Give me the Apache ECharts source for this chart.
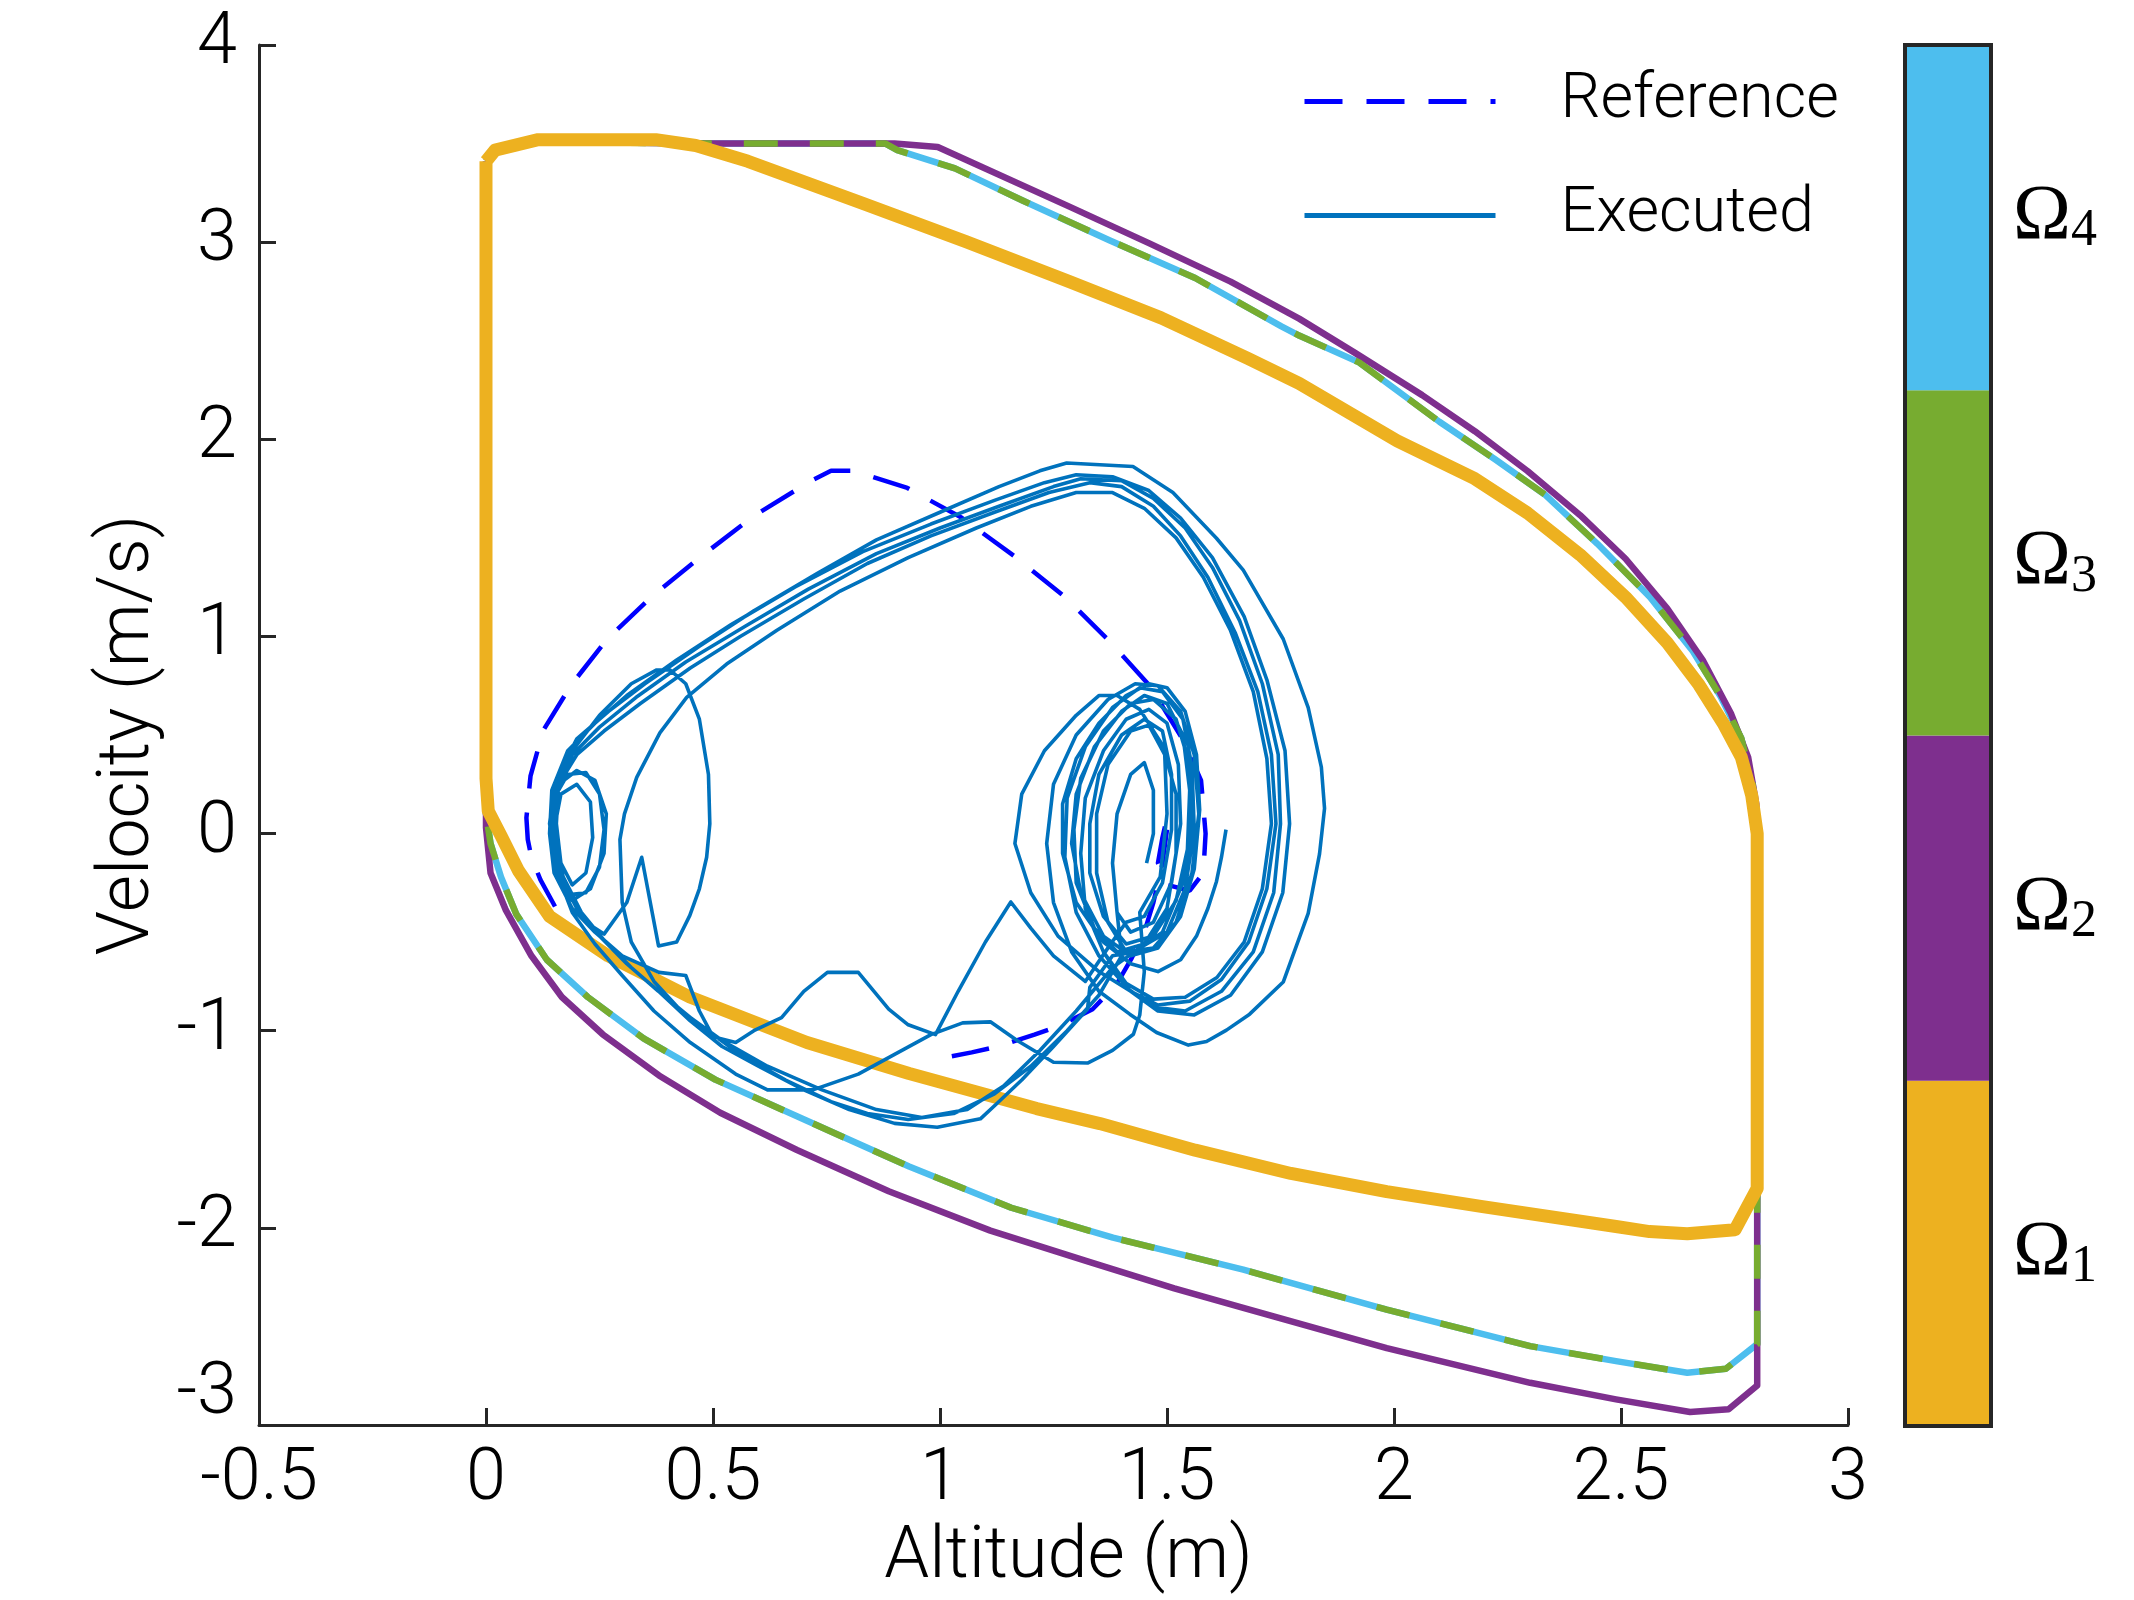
<!DOCTYPE html>
<html>
<head>
<meta charset="utf-8">
<script src="https://cdn.jsdelivr.net/npm/echarts@6/dist/echarts.min.js"></script>
<style>
  html, body { margin: 0; padding: 0; background: #fff; }
  #chart { width: 2134px; height: 1600px; }
</style>
</head>
<body>
<div id="chart"></div>
<script>
// axis ticks
var xTicks = [-0.5, 0, 0.5, 1, 1.5, 2, 2.5, 3];
var yTicks = [-3, -2, -1, 0, 1, 2, 3, 4];

// region boundaries (altitude, velocity)
var omega1 = [[0, 3.41], [0.02, 3.467], [0.115, 3.52], [0.374, 3.52], [0.462, 3.49], [0.577, 3.41], [0.83, 3.197],
  [1.057, 3.003], [1.285, 2.80], [1.487, 2.616], [1.678, 2.41], [1.791, 2.284], [2.007, 1.992], [2.178, 1.80],
  [2.294, 1.626], [2.41, 1.414], [2.51, 1.199], [2.602, 0.967], [2.672, 0.754], [2.725, 0.56], [2.765, 0.388],
  [2.788, 0.193], [2.80, 0.0], [2.80, -1.80], [2.751, -2.01], [2.646, -2.03], [2.563, -2.019], [2.489, -1.993],
  [2.195, -1.892], [1.984, -1.816], [1.773, -1.724], [1.562, -1.606], [1.352, -1.471], [1.213, -1.395],
  [0.932, -1.217], [0.707, -1.06], [0.449, -0.829], [0.269, -0.62], [0.14, -0.42], [0.072, -0.19],
  [0.033, -0.01], [0.005, 0.114], [0, 0.28], [0, 3.41]];

var omega2 = [[0, 3.41], [0.02, 3.467], [0.115, 3.51], [0.46, 3.50], [0.90, 3.50], [0.995, 3.483], [1.285, 3.18],
  [1.46, 2.995], [1.64, 2.80], [1.791, 2.612], [1.915, 2.437], [2.062, 2.224], [2.178, 2.041], [2.294, 1.839],
  [2.41, 1.615], [2.51, 1.394], [2.602, 1.141], [2.68, 0.88], [2.742, 0.61], [2.78, 0.388], [2.798, 0.15],
  [2.80, 0.0], [2.80, -2.80], [2.737, -2.92], [2.652, -2.934], [2.489, -2.87], [2.30, -2.786], [1.984, -2.61],
  [1.668, -2.406], [1.516, -2.307], [1.325, -2.17], [1.111, -2.014], [0.887, -1.814], [0.685, -1.605],
  [0.516, -1.416], [0.381, -1.227], [0.257, -1.018], [0.167, -0.829], [0.10, -0.62], [0.044, -0.39],
  [0.01, -0.2], [0, 0.03], [0, 3.41]];

// Omega3 and Omega4 share the same boundary
var omega34 = [[0, 3.41], [0.02, 3.467], [0.115, 3.51], [0.46, 3.50], [0.88, 3.50], [0.906, 3.467], [1.033, 3.374],
  [1.183, 3.21], [1.373, 3.01], [1.562, 2.818], [1.752, 2.573], [1.791, 2.526], [1.923, 2.39], [2.10, 2.089],
  [2.224, 1.896], [2.332, 1.72], [2.448, 1.47], [2.564, 1.199], [2.657, 0.929], [2.719, 0.696], [2.765, 0.484],
  [2.79, 0.25], [2.80, 0.05], [2.80, -2.59], [2.731, -2.715], [2.646, -2.735], [2.489, -2.676], [2.30, -2.60],
  [1.984, -2.415], [1.668, -2.212], [1.381, -2.05], [1.157, -1.898], [0.932, -1.689], [0.707, -1.457],
  [0.505, -1.248], [0.347, -1.039], [0.224, -0.829], [0.134, -0.64], [0.067, -0.41], [0.033, -0.22],
  [0.01, -0.05], [0, 0.1], [0, 3.41]];

// reference trajectory (two visible pieces)
var refFall = [[1.50, 0.02], [1.49, -0.15], [1.47, -0.35], [1.45, -0.50], [1.421, -0.637], [1.388, -0.768],
  [1.336, -0.891], [1.263, -0.975], [1.208, -1.02], [1.127, -1.08], [1.07, -1.11], [0.99, -1.146]];
var refArc = [[0.152, -0.37], [0.12, -0.235], [0.10, -0.12], [0.092, -0.03], [0.089, 0.08], [0.098, 0.291],
  [0.126, 0.523], [0.188, 0.755], [0.267, 0.987], [0.368, 1.208], [0.48, 1.417], [0.592, 1.614], [0.715, 1.788],
  [0.76, 1.84], [0.81, 1.84], [0.928, 1.753], [1.047, 1.603], [1.165, 1.405], [1.277, 1.197], [1.373, 0.976],
  [1.463, 0.747], [1.535, 0.477], [1.575, 0.27], [1.585, 0.0], [1.58, -0.2], [1.55, -0.29], [1.50, -0.26],
  [1.48, -0.15], [1.49, -0.02], [1.50, 0.08]];

// executed trajectory, in pieces
var execTail = [[1.63, 0.02], [1.62, -0.12], [1.609, -0.243], [1.59, -0.38], [1.565, -0.52], [1.53, -0.64],
  [1.48, -0.70], [1.42, -0.66]];
var execRight1 = [[1.36, -0.55], [1.30, -0.35], [1.27, -0.10], [1.27, 0.15], [1.30, 0.38], [1.35, 0.56], [1.41, 0.70],
  [1.46, 0.76], [1.50, 0.74], [1.54, 0.62], [1.565, 0.40], [1.572, 0.12], [1.56, -0.18], [1.53, -0.42], [1.48, -0.58],
  [1.42, -0.62], [1.36, -0.52], [1.31, -0.30], [1.29, -0.05], [1.30, 0.20], [1.34, 0.44], [1.40, 0.62], [1.45, 0.70],
  [1.50, 0.66], [1.535, 0.50], [1.55, 0.22], [1.545, -0.08], [1.52, -0.34], [1.47, -0.52], [1.41, -0.56],
  [1.36, -0.42], [1.33, -0.20], [1.33, 0.05], [1.35, 0.30], [1.40, 0.50], [1.45, 0.58], [1.49, 0.52], [1.51, 0.30],
  [1.51, 0.02], [1.49, -0.25], [1.45, -0.42], [1.41, -0.45]];
var execBottom1 = [[1.37, -0.58], [1.32, -0.75], [1.25, -0.62], [1.20, -0.48], [1.156, -0.347], [1.10, -0.55],
  [1.04, -0.80], [0.99, -1.02], [0.93, -0.97], [0.887, -0.89], [0.82, -0.704], [0.752, -0.704], [0.70, -0.80],
  [0.651, -0.934], [0.59, -1.00], [0.55, -1.06], [0.50, -1.03], [0.47, -0.90], [0.44, -0.72], [0.381, -0.704],
  [0.30, -0.62], [0.24, -0.50], [0.19, -0.38]];
var execLeft1 = [[0.15, -0.20], [0.14, 0.00], [0.15, 0.18], [0.18, 0.30], [0.22, 0.31], [0.25, 0.20], [0.26, 0.02],
  [0.25, -0.17], [0.22, -0.30], [0.18, -0.31], [0.155, -0.18], [0.15, 0.02], [0.165, 0.20], [0.20, 0.25],
  [0.23, 0.16], [0.235, -0.02], [0.22, -0.20], [0.19, -0.26], [0.165, -0.15], [0.155, 0.05]];
var execLoopA = [[0.16, 0.25], [0.20, 0.40], [0.26, 0.52], [0.34, 0.66], [0.45, 0.84], [0.56, 1.00], [0.70, 1.19],
  [0.84, 1.37], [0.98, 1.51], [1.12, 1.63], [1.24, 1.73], [1.33, 1.78], [1.40, 1.76], [1.47, 1.66], [1.53, 1.51],
  [1.59, 1.30], [1.65, 1.02], [1.70, 0.72], [1.73, 0.40], [1.74, 0.05], [1.72, -0.28], [1.68, -0.55], [1.62, -0.74],
  [1.55, -0.85], [1.48, -0.87], [1.42, -0.80]];
var execRight2 = [[1.35, -0.70], [1.26, -0.52], [1.20, -0.30], [1.165, -0.05], [1.18, 0.20], [1.23, 0.42],
  [1.30, 0.60], [1.35, 0.70], [1.39, 0.70], [1.44, 0.63], [1.49, 0.45], [1.52, 0.20], [1.52, -0.10], [1.50, -0.38],
  [1.45, -0.56], [1.39, -0.60], [1.34, -0.48], [1.30, -0.25], [1.295, 0.02], [1.31, 0.28], [1.36, 0.52],
  [1.42, 0.66], [1.47, 0.68], [1.52, 0.58], [1.55, 0.35], [1.555, 0.05], [1.535, -0.25], [1.49, -0.50],
  [1.43, -0.60], [1.38, -0.62]];
var execBottom2 = [[1.33, -0.78], [1.325, -0.89], [1.25, -1.08], [1.18, -1.25], [1.123, -1.374], [1.089, -1.447],
  [0.994, -1.49], [0.90, -1.47], [0.80, -1.40], [0.70, -1.30], [0.60, -1.18], [0.52, -1.08], [0.45, -0.95],
  [0.38, -0.80], [0.31, -0.66], [0.25, -0.52], [0.20, -0.38], [0.16, -0.20]];
var execMedium = [[0.14, 0.05], [0.15, 0.22], [0.19, 0.42], [0.25, 0.60], [0.32, 0.76], [0.376, 0.83], [0.405, 0.83],
  [0.44, 0.76], [0.47, 0.58], [0.49, 0.30], [0.493, 0.05], [0.486, -0.12], [0.47, -0.28], [0.449, -0.415],
  [0.42, -0.55], [0.38, -0.57], [0.343, -0.12], [0.31, -0.35], [0.26, -0.51], [0.22, -0.45], [0.18, -0.28]];
var execLeft2 = [[0.15, -0.10], [0.145, 0.10], [0.16, 0.25], [0.20, 0.32], [0.24, 0.27], [0.265, 0.10], [0.26, -0.10],
  [0.23, -0.28], [0.19, -0.34], [0.16, -0.22], [0.145, -0.02]];
var execLoopB = [[0.148, 0.08], [0.16, 0.30], [0.20, 0.48], [0.27, 0.62], [0.35, 0.76], [0.47, 0.95], [0.59, 1.13],
  [0.73, 1.32], [0.86, 1.49], [1.00, 1.63], [1.13, 1.76], [1.22, 1.84], [1.279, 1.88], [1.425, 1.862],
  [1.513, 1.73], [1.609, 1.498], [1.668, 1.336], [1.756, 0.987], [1.811, 0.639], [1.84, 0.337], [1.847, 0.128],
  [1.836, -0.103], [1.811, -0.405], [1.756, -0.753], [1.682, -0.916], [1.631, -0.997], [1.587, -1.055],
  [1.547, -1.073], [1.477, -1.009], [1.418, -0.916], [1.35, -0.80]];
var execRight3 = [[1.29, -0.60], [1.25, -0.35], [1.235, -0.05], [1.25, 0.25], [1.30, 0.50], [1.37, 0.68], [1.43, 0.76],
  [1.48, 0.75], [1.53, 0.62], [1.56, 0.40], [1.57, 0.10], [1.555, -0.20], [1.52, -0.45], [1.47, -0.58],
  [1.41, -0.60], [1.37, -0.45], [1.345, -0.2], [1.345, 0.10], [1.37, 0.35], [1.42, 0.52], [1.46, 0.55],
  [1.495, 0.40], [1.50, 0.10], [1.485, -0.22], [1.44, -0.40]];
var execBottom3 = [[1.45, -0.70], [1.44, -0.92], [1.426, -1.018], [1.38, -1.10], [1.325, -1.164], [1.25, -1.16],
  [1.17, -1.05], [1.111, -0.955], [1.05, -0.96], [0.98, -1.02], [0.90, -1.12], [0.82, -1.22], [0.72, -1.30],
  [0.62, -1.30], [0.55, -1.22], [0.45, -1.06], [0.37, -0.90], [0.30, -0.72], [0.24, -0.56], [0.19, -0.40],
  [0.16, -0.22]];
var execLoopC = [[0.14, 0.0], [0.145, 0.22], [0.18, 0.42], [0.24, 0.56], [0.31, 0.70], [0.42, 0.88], [0.54, 1.06],
  [0.68, 1.25], [0.83, 1.43], [0.98, 1.57], [1.12, 1.69], [1.23, 1.78], [1.30, 1.82], [1.38, 1.81], [1.46, 1.74],
  [1.53, 1.60], [1.60, 1.40], [1.67, 1.10], [1.72, 0.78], [1.76, 0.42], [1.77, 0.05], [1.755, -0.30],
  [1.71, -0.60], [1.64, -0.82], [1.56, -0.92], [1.48, -0.90], [1.42, -0.80]];
var execRight4 = [[1.35, -0.62], [1.30, -0.40], [1.275, -0.12], [1.28, 0.18], [1.32, 0.44], [1.38, 0.64],
  [1.44, 0.74], [1.49, 0.72], [1.535, 0.58], [1.555, 0.34], [1.56, 0.02], [1.54, -0.28], [1.50, -0.50],
  [1.44, -0.58]];
var execBottom4 = [[1.38, -0.68], [1.30, -0.90], [1.22, -1.10], [1.14, -1.28], [1.06, -1.40], [0.96, -1.44],
  [0.86, -1.40], [0.74, -1.30], [0.62, -1.18], [0.52, -1.05], [0.43, -0.90], [0.37, -0.75], [0.32, -0.55],
  [0.30, -0.35]];
var execLoopE = [[0.295, -0.03], [0.305, 0.10], [0.332, 0.285], [0.383, 0.511], [0.442, 0.691], [0.53, 0.86],
  [0.64, 1.03], [0.78, 1.23], [0.93, 1.40], [1.08, 1.55], [1.20, 1.66], [1.30, 1.73], [1.38, 1.73], [1.45, 1.65],
  [1.52, 1.50], [1.58, 1.30], [1.64, 1.03], [1.69, 0.72], [1.72, 0.38], [1.73, 0.05], [1.71, -0.28],
  [1.67, -0.55], [1.61, -0.73], [1.54, -0.83], [1.47, -0.84], [1.41, -0.76]];
var execBottom5 = [[1.40, -0.62], [1.35, -0.82], [1.28, -1.00], [1.20, -1.18], [1.12, -1.32], [1.03, -1.42],
  [0.93, -1.45], [0.84, -1.42], [0.76, -1.36], [0.66, -1.25], [0.56, -1.12], [0.47, -0.97], [0.39, -0.82],
  [0.32, -0.68], [0.26, -0.54], [0.21, -0.40], [0.17, -0.22]];
var execLoopD = [[0.15, -0.02], [0.155, 0.20], [0.19, 0.40], [0.25, 0.54], [0.33, 0.69], [0.44, 0.87], [0.57, 1.05],
  [0.71, 1.24], [0.86, 1.42], [1.00, 1.55], [1.13, 1.66], [1.25, 1.76], [1.31, 1.80], [1.40, 1.79], [1.47, 1.70],
  [1.54, 1.55], [1.60, 1.35], [1.66, 1.08], [1.71, 0.76], [1.745, 0.40], [1.75, 0.05], [1.735, -0.30],
  [1.69, -0.60], [1.62, -0.80], [1.54, -0.90], [1.47, -0.88], [1.41, -0.78]];
var execRight5 = [[1.36, -0.60], [1.32, -0.38], [1.31, -0.10], [1.32, 0.18], [1.36, 0.42], [1.41, 0.58], [1.46, 0.63],
  [1.50, 0.56], [1.525, 0.35], [1.53, 0.05], [1.51, -0.25], [1.47, -0.45], [1.42, -0.50], [1.39, -0.40],
  [1.38, -0.15], [1.39, 0.10], [1.42, 0.30], [1.45, 0.36], [1.47, 0.22], [1.47, 0.0], [1.455, -0.15]];

// colour bar regions
var regionIds = ['1', '2', '3', '4'];
var regionColors = ['#EDB120', '#7E2F8E', '#77AC30', '#4DBEEE'];

var executed = [].concat(execTail, execRight1, execBottom1, execLeft1, execLoopA, execRight2, execBottom2,
  execMedium, execLeft2, execLoopB, execRight3, execBottom3, execLoopC, execRight4, execBottom4, execLoopE,
  execRight5.slice(0, 14), execBottom5, execLoopD, execRight5);

var chart = echarts.init(document.getElementById('chart'));
var axisColor = '#262626';
var font = 'Roboto';
var tickFont = { fontFamily: font, fontWeight: 300, fontSize: 72, color: '#000' };

function boundary(data, color, width, type) {
  return {
    type: 'line', data: data, xAxisIndex: 0, yAxisIndex: 0,
    symbol: 'none', silent: true,
    lineStyle: { color: color, width: width, type: type || 'solid', join: 'round' }
  };
}

chart.setOption({
  animation: false,
  backgroundColor: '#fff',
  grid: [
    { left: 259, right: 286, top: 45, bottom: 171, show: false },
    { left: 1905, width: 86, top: 45, bottom: 174, show: true, z: 10,
      borderColor: axisColor, borderWidth: 4, backgroundColor: 'transparent' }
  ],
  legend: {
    data: ['Reference', 'Executed'],
    orient: 'vertical', left: 1302, top: 70, padding: 0,
    itemWidth: 191, itemHeight: 20, itemGap: 51,
    itemStyle: { opacity: 0 },
    lineStyle: { width: 5 },
    textStyle: { fontFamily: font, fontWeight: 300, fontSize: 63, lineHeight: 63, color: '#000',
      padding: [0, 0, 0, 60] }
  },
  xAxis: [
    { type: 'value', gridIndex: 0, min: xTicks[0], max: xTicks[xTicks.length - 1], interval: 0.5,
      name: 'Altitude (m)', nameLocation: 'middle', nameGap: 98,
      nameTextStyle: { fontFamily: font, fontWeight: 300, fontSize: 72, color: '#000', padding: [0, 0, 0, 30] },
      axisLine: { onZero: false, lineStyle: { color: axisColor, width: 3 } },
      axisTick: { inside: true, length: 17, lineStyle: { color: axisColor, width: 3 } },
      axisLabel: Object.assign({ margin: 20 }, tickFont),
      splitLine: { show: false } },
    { type: 'value', gridIndex: 1, min: 0, max: 1, show: false }
  ],
  yAxis: [
    { type: 'value', gridIndex: 0, min: yTicks[0], max: yTicks[yTicks.length - 1], interval: 1,
      name: 'Velocity (m/s)', nameLocation: 'middle', nameGap: 92,
      nameTextStyle: { fontFamily: font, fontWeight: 300, fontSize: 72, color: '#000' },
      axisLine: { show: true, onZero: false, lineStyle: { color: axisColor, width: 3 } },
      axisTick: { show: true, inside: true, length: 17, lineStyle: { color: axisColor, width: 3 } },
      axisLabel: Object.assign({
        margin: 22,
        // the lowest label sits a little above its tick, as in the original
        formatter: function (v) { return v === yTicks[0] ? '{up|' + v + '}' : String(v); },
        rich: { up: Object.assign({ padding: [0, 0, 60, 0] }, tickFont) }
      }, tickFont),
      splitLine: { show: false } },
    { type: 'category', gridIndex: 1, position: 'right', data: regionIds,
      axisLine: { show: false }, axisTick: { show: false },
      axisLabel: {
        margin: 22,
        formatter: function (v) { return '{o|\u03A9}{s|' + v + '}'; },
        rich: {
          o: { fontFamily: 'Liberation Serif', fontSize: 78, color: '#000', lineHeight: 80 },
          s: { fontFamily: 'Liberation Serif', fontSize: 52, color: '#000', verticalAlign: 'bottom', lineHeight: 52 }
        }
      } }
  ],
  series: [
    boundary(omega34, '#4DBEEE', 6.5),
    boundary(omega2, '#7E2F8E', 6.5),
    boundary(omega34, '#77AC30', 6.5, [34, 32]),
    boundary(omega1, '#EDB120', 13),
    { name: 'Reference', type: 'line', data: refFall, symbol: 'none', silent: true,
      lineStyle: { color: '#0000FF', width: 4.5, type: [38, 24] }, itemStyle: { color: '#0000FF' } },
    { name: 'Reference', type: 'line', data: refArc, symbol: 'none', silent: true,
      lineStyle: { color: '#0000FF', width: 4.5, type: [38, 24] }, itemStyle: { color: '#0000FF' } },
    { name: 'Executed', type: 'line', data: executed, symbol: 'none', silent: true,
      lineStyle: { color: '#0072BD', width: 3.6, join: 'round' }, itemStyle: { color: '#0072BD' } },
    { type: 'bar', xAxisIndex: 1, yAxisIndex: 1, barWidth: '100%', silent: true,
      data: regionColors.map(function (c) { return { value: 1, itemStyle: { color: c } }; }) }
  ]
});
</script>
</body>
</html>
